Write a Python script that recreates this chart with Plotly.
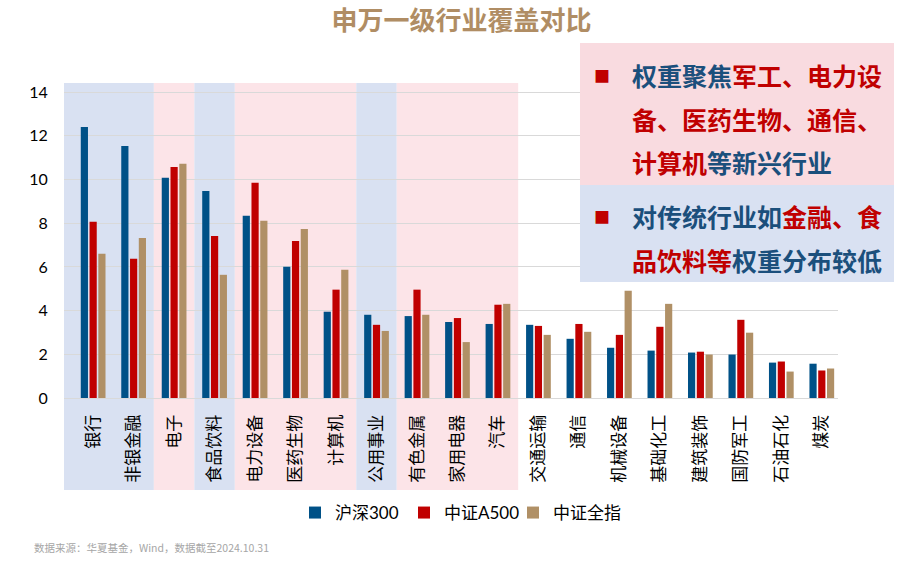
import plotly.graph_objects as go

categories = ["银行", "非银金融", "电子", "食品饮料", "电力设备", "医药生物", "计算机",
              "公用事业", "有色金属", "家用电器", "汽车", "交通运输", "通信", "机械设备",
              "基础化工", "建筑装饰", "国防军工", "石油石化", "煤炭"]
hs300 = [12.41, 11.54, 10.08, 9.48, 8.34, 6.01, 3.95, 3.81, 3.75, 3.48, 3.39,
         3.35, 2.71, 2.30, 2.17, 2.08, 1.99, 1.62, 1.57]
a500 = [8.07, 6.37, 10.58, 7.42, 9.85, 7.19, 4.96, 3.35, 4.96, 3.66, 4.27,
        3.30, 3.39, 2.89, 3.26, 2.12, 3.58, 1.67, 1.26]
allidx = [6.60, 7.33, 10.72, 5.64, 8.11, 7.74, 5.87, 3.07, 3.81, 2.56, 4.31,
          2.89, 3.03, 4.91, 4.31, 1.99, 2.99, 1.21, 1.35]
series_names = ["沪深300", "中证A500", "中证全指"]
y_ticks = [0, 2, 4, 6, 8, 10, 12, 14]
# highlighted category groups: (first, last, kind)
bands = [("银行", "非银金融", "blue"), ("电子", "电子", "pink"), ("食品饮料", "食品饮料", "blue"),
         ("电力设备", "计算机", "pink"), ("公用事业", "公用事业", "blue"), ("有色金属", "汽车", "pink")]

BLUE = "#005187"
RED = "#C00000"
TAN = "#B09066"
TXT_BLUE = "#1B4F7C"
FONT = "Lato, 'Noto Sans CJK SC', sans-serif"
CJK = "'Noto Sans CJK SC', sans-serif"

fig = go.Figure()
for name, vals, col in zip(series_names, [hs300, a500, allidx], [BLUE, RED, TAN]):
    fig.add_trace(go.Bar(x=list(range(len(categories))), y=vals, name=name,
                         marker=dict(color=col, line=dict(width=0))))

X_LO, X_HI = -0.72, 18.4
band_fill = {"blue": "#D9E1F2", "pink": "#FCE4E8"}
for first, last, kind in bands:
    i0 = categories.index(first) - 0.5
    i1 = categories.index(last) + 0.5
    if categories.index(first) == 0:
        i0 = X_LO
    fig.add_shape(type="rect", xref="x", yref="paper", x0=i0, x1=i1, y0=-0.292, y1=1.0,
                  fillcolor=band_fill[kind], line=dict(width=0), layer="below")

# text boxes (pixel -> paper conversion)
W, H, L, T = 774, 315, 64, 83
def px(xp):
    return (xp - L) / W
def py(yp):
    return (T + H - yp) / H

fig.add_shape(type="rect", xref="paper", yref="paper", x0=px(580), x1=px(894), y0=py(185), y1=py(43),
              fillcolor="#F9DBE0", line=dict(width=0), layer="above")
fig.add_shape(type="rect", xref="paper", yref="paper", x0=px(580), x1=px(894), y0=py(282), y1=py(185),
              fillcolor="#D9E1F2", line=dict(width=0), layer="above")

def b(t):
    return "<span style='color:%s'>%s</span>" % (TXT_BLUE, t)
def r(t):
    return "<span style='color:%s'>%s</span>" % (RED, t)

lines = [
    (75, b("权重聚焦") + r("军工、电力设"), True),
    (119, r("备、医药生物、通信、"), False),
    (162, r("计算机") + b("等新兴行业"), False),
    (216, b("对传统行业如") + r("金融、食"), True),
    (260, r("品饮料等") + b("权重分布较低"), False),
]
for yv, txt, bullet in lines:
    fig.add_annotation(xref="paper", yref="paper", x=px(630), y=py(yv), xanchor="left", yanchor="middle",
                       text="<b>" + txt + "</b>", showarrow=False, font=dict(family=CJK, size=25))
    if bullet:
        fig.add_annotation(xref="paper", yref="paper", x=px(602), y=py(yv), xanchor="center", yanchor="middle",
                           text="■", showarrow=False, font=dict(family=CJK, size=16, color=RED))

fig.add_annotation(xref="paper", yref="paper", x=px(32), y=py(547), xanchor="left", yanchor="middle",
                   text="数据来源：华夏基金，Wind，数据截至2024.10.31", showarrow=False,
                   font=dict(family=CJK, size=10.5, color="#A6A6A6"))

fig.update_layout(
    width=923, height=564,
    margin=dict(l=L, r=923 - L - W, t=T, b=564 - T - H, autoexpand=False),
    paper_bgcolor="white", plot_bgcolor="rgba(0,0,0,0)",
    title=dict(text="<b>申万一级行业覆盖对比</b>", x=0.5, xref="container", xanchor="center",
               y=1 - 21 / 564, yref="container", yanchor="middle",
               font=dict(family=CJK, size=26, color="#B08D64")),
    barmode="group", bargap=0.35, bargroupgap=0.18,
    showlegend=True,
    legend=dict(orientation="h", x=px(295), xanchor="left", y=py(513), yanchor="middle",
                font=dict(family=FONT, size=17, color="#000000"), bgcolor="rgba(0,0,0,0)",
                itemwidth=30, traceorder="normal", entrywidth=64, entrywidthmode="pixels"),
    font=dict(family=FONT),
)
fig.update_xaxes(range=[X_LO, X_HI], tickmode="array", tickvals=list(range(len(categories))),
                 ticktext=categories, tickangle=-90, showgrid=False, zeroline=False, showline=False,
                 ticks="outside", ticklen=9, tickcolor="rgba(0,0,0,0)", automargin=False,
                 tickfont=dict(family=CJK, size=17, color="#000000"))
fig.update_yaxes(range=[0, 14.42], tickmode="array", tickvals=y_ticks, showgrid=True,
                 gridcolor="#D9D9D9", gridwidth=1, zeroline=True, zerolinecolor="#D9D9D9",
                 zerolinewidth=1, showline=False, ticks="outside", ticklen=12, automargin=False,
                 tickcolor="rgba(0,0,0,0)", tickfont=dict(family=FONT, size=16, color="#000000"))

fig.write_html("out.html", config={"displayModeBar": False},
               post_script="document.body.style.margin='0px';")
